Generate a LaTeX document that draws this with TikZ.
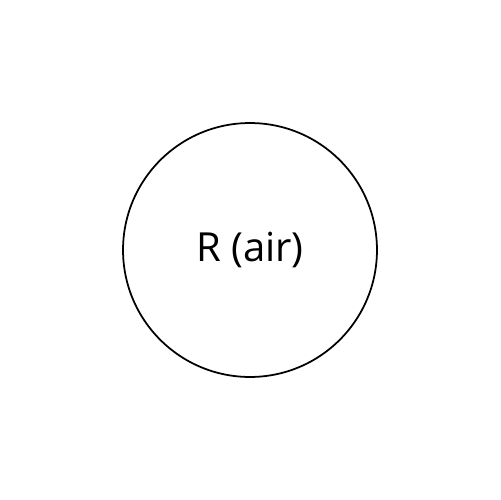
\documentclass[tikz,border=0pt]{standalone}
\usepackage{fontspec}
\setmainfont{Open Sans}
\begin{document}
\begin{tikzpicture}[x=0.02cm,y=-0.02cm,
  ball/.style={draw=black,line width=1pt,circle,minimum size=5.08cm,inner sep=0pt,font=\fontsize{22.8}{26}\selectfont}]
\useasboundingbox (0,0) rectangle (500,500);
\node[ball] (r) at (250,250) {R (air)};
\end{tikzpicture}
\end{document}
